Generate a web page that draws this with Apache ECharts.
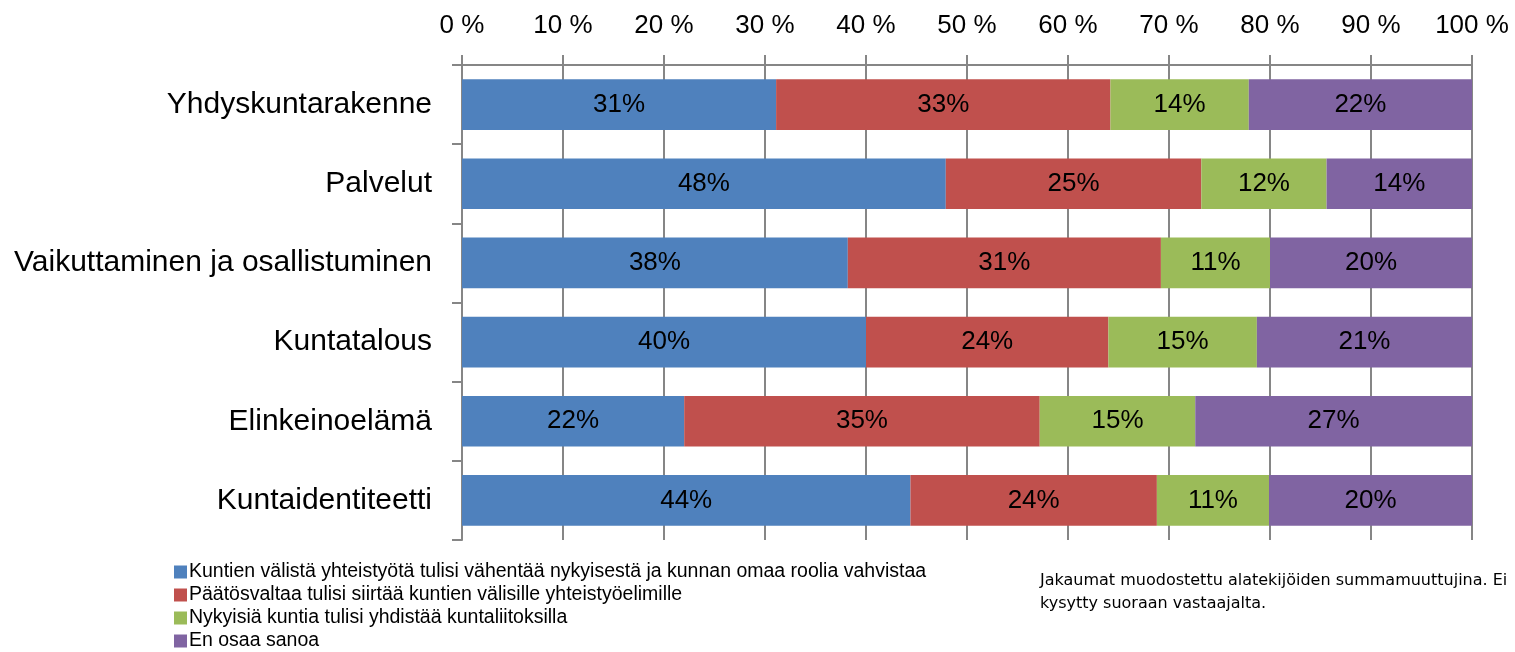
<!DOCTYPE html>
<html>
<head>
<meta charset="utf-8">
<script src="https://cdn.jsdelivr.net/npm/echarts@6/dist/echarts.min.js"></script>
<style>
  html, body { margin: 0; padding: 0; background: #fff; }
  #chart { width: 1515px; height: 652px; }
</style>
</head>
<body>
<div id="chart"></div>
<script>
// Kategoriat (ylhäältä alas)
const kategoriat = ["Yhdyskuntarakenne", "Palvelut", "Vaikuttaminen ja osallistuminen", "Kuntatalous", "Elinkeinoelämä", "Kuntaidentiteetti"];

// Sarjojen nimet
const sarjat = [
  "Kuntien välistä yhteistyötä tulisi vähentää nykyisestä ja kunnan omaa roolia vahvistaa",
  "Päätösvaltaa tulisi siirtää kuntien välisille yhteistyöelimille",
  "Nykyisiä kuntia tulisi yhdistää kuntaliitoksilla",
  "En osaa sanoa"
];

// Arvot (%), luettu kuvasta
const vahentaa   = [31.1, 47.9, 38.2, 40.0, 22.0, 44.4];
const siirtaa    = [33.1, 25.3, 31.0, 24.0, 35.2, 24.4];
const yhdistaa   = [13.7, 12.4, 10.8, 14.7, 15.4, 11.1];
const enOsaa     = [22.1, 14.4, 20.0, 21.3, 27.4, 20.1];

const varit = ["#4F81BD", "#C0504D", "#9BBB59", "#8064A2"];
const fontti = "'Liberation Sans', Arial, sans-serif";

function sarja(nimi, data, vari) {
  return {
    name: nimi,
    type: "bar",
    stack: "yht",
    barWidth: "64%",
    data: data,
    itemStyle: { color: vari },
    label: {
      show: true,
      position: "inside",
      color: "#000",
      fontSize: 26,
      fontFamily: fontti,
      formatter: function (p) { return Math.round(p.value) + "%"; }
    }
  };
}

const kaavio = echarts.init(document.getElementById("chart"));
kaavio.setOption({
  animation: false,
  grid: { left: 462, right: 43, top: 65, bottom: 112 },
  legend: {
    orient: "vertical",
    left: 174,
    top: 562,
    height: 100,
    padding: 0,
    itemWidth: 13,
    itemHeight: 13,
    itemGap: 3,
    icon: "rect",
    textStyle: { fontSize: 19.5, fontFamily: fontti, color: "#000", padding: [0, 0, 0, -3] },
    data: sarjat
  },
  xAxis: {
    type: "value",
    position: "top",
    min: 0,
    max: 100,
    interval: 10,
    axisLine: { show: true, lineStyle: { color: "#868686", width: 2 } },
    axisTick: { show: true, length: 10, lineStyle: { color: "#868686", width: 2 } },
    splitLine: { show: true, lineStyle: { color: "#868686", width: 2 } },
    axisLabel: { formatter: "{value} %", fontSize: 26, fontFamily: fontti, color: "#000", margin: 26 }
  },
  yAxis: {
    type: "category",
    inverse: true,
    data: kategoriat,
    axisLine: { show: true, lineStyle: { color: "#868686", width: 2 } },
    axisTick: { show: true, length: 10, lineStyle: { color: "#868686", width: 2 } },
    axisLabel: { fontSize: 30, fontFamily: fontti, color: "#000", margin: 30 }
  },
  graphic: [
    {
      type: "text",
      left: 1040,
      top: 569,
      style: {
        text: "Jakaumat muodostettu alatekijöiden summamuuttujina. Ei\nkysytty suoraan vastaajalta.",
        font: "16px 'DejaVu Sans', sans-serif",
        fill: "#000",
        lineHeight: 23
      }
    }
  ],
  series: [
    sarja(sarjat[0], vahentaa, varit[0]),
    sarja(sarjat[1], siirtaa, varit[1]),
    sarja(sarjat[2], yhdistaa, varit[2]),
    sarja(sarjat[3], enOsaa, varit[3])
  ]
});
</script>
</body>
</html>
